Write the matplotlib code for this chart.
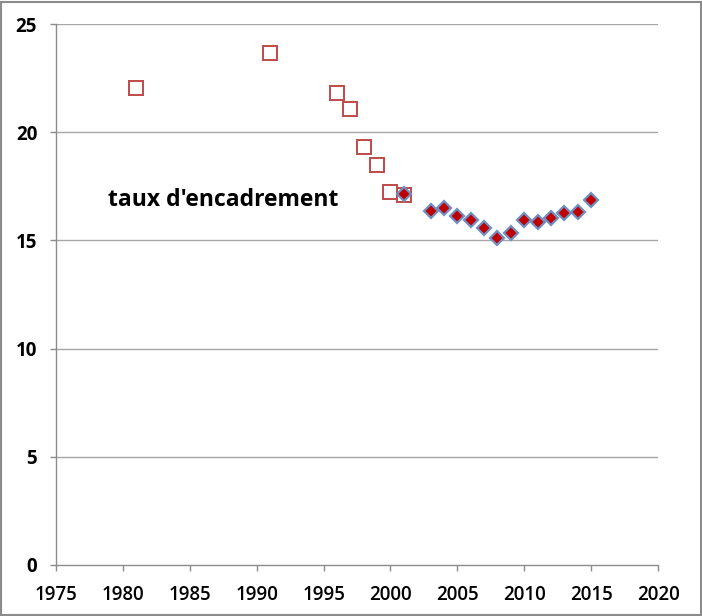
import matplotlib
matplotlib.use("Agg")
import matplotlib.pyplot as plt
from matplotlib.patches import Rectangle

# Data
years_old = [1981, 1991, 1996, 1997, 1998, 1999, 2000, 2001]
vals_old = [22.04, 23.66, 21.81, 21.07, 19.32, 18.48, 17.24, 17.10]
years_new = [2001, 2003, 2004, 2005, 2006, 2007, 2008, 2009, 2010, 2011, 2012, 2013, 2014, 2015]
vals_new = [17.16, 16.37, 16.51, 16.13, 15.93, 15.59, 15.10, 15.36, 15.94, 15.84, 16.04, 16.25, 16.33, 16.85]
xticks = [1975, 1980, 1985, 1990, 1995, 2000, 2005, 2010, 2015, 2020]
yticks = [0, 5, 10, 15, 20, 25]
label = "taux d'encadrement"

fig = plt.figure(figsize=(7.02, 6.16), dpi=100)
ax = fig.add_axes([56/702, 1-565/616, (658-56)/702, (565-24)/616])

for y in yticks[1:]:
    ax.axhline(y, color="#a6a6a6", lw=1.0, zorder=0)

ax.plot(years_old, vals_old, linestyle="none", marker="s", markersize=10.5,
        markerfacecolor="none", markeredgecolor="#be4b48", markeredgewidth=1.4, zorder=3)
ax.plot(years_new, vals_new, linestyle="none", marker="D", markersize=7.2,
        markerfacecolor="#c00000", markeredgecolor="#6f8fc4", markeredgewidth=1.6, zorder=4)

ax.set_xlim(1975, 2020)
ax.set_ylim(0, 25)
ax.set_xticks(xticks, labels=[str(v) for v in xticks], fontsize=13.5,
              fontweight="semibold", family=["Open Sans", "DejaVu Sans"])
ax.set_yticks(yticks, labels=[str(v) for v in yticks], fontsize=13.5,
              fontweight="bold", family=["Open Sans", "DejaVu Sans"])
for s in ["top", "right"]:
    ax.spines[s].set_visible(False)
for s in ["left", "bottom"]:
    ax.spines[s].set_color("#8c8c8c")
    ax.spines[s].set_linewidth(1.0)
ax.tick_params(axis="both", direction="out", length=4.5, color="#8c8c8c", width=1.0)
ax.tick_params(axis="x", pad=10)
ax.tick_params(axis="y", pad=9)

ax.text(1978.9, 16.87, label, fontsize=16.5, fontweight="bold", family=["Open Sans", "DejaVu Sans"],
        va="center", ha="left")

fig.patches.append(Rectangle((1/702, 1/616), 1-2.5/702, 1-2.5/616, transform=fig.transFigure,
                             fill=False, edgecolor="#8c8c8c", lw=1.5))
fig.savefig("out.png", dpi=100)
